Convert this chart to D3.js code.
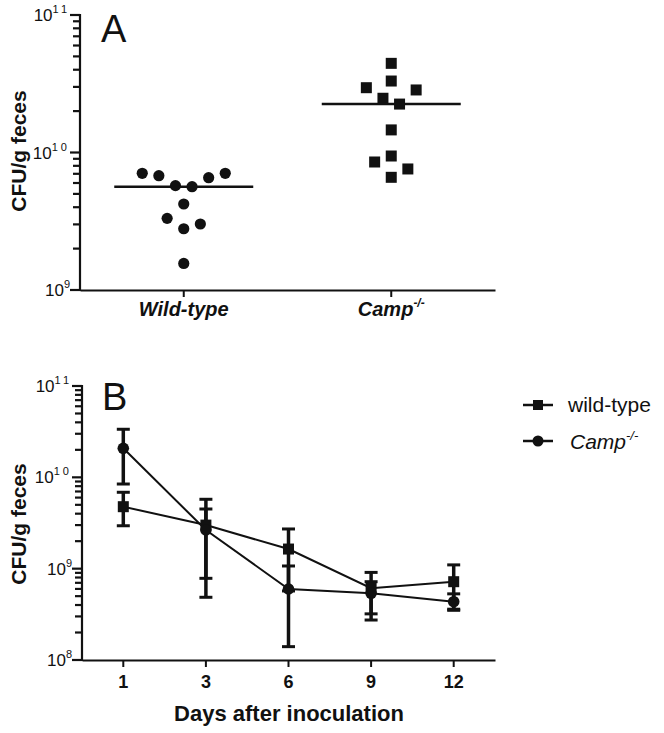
<!DOCTYPE html>
<html>
<head>
<meta charset="utf-8">
<script src="https://cdn.jsdelivr.net/npm/d3@7"></script>
<style>
  body { margin: 0; background: #fff; }
  text { font-family: "Liberation Sans", Arial, sans-serif; fill: #111; }
</style>
</head>
<body>
<svg width="664" height="733"></svg>
<script>
// panel A: CFU/g feces per mouse
var groupsA = ["Wild-type", "Camp"];
var wildTypeCFU = [7.06e9, 6.78e9, 5.74e9, 5.64e9, 6.56e9, 7.06e9, 4.22e9, 3.02e9, 3.32e9, 2.79e9, 1.56e9];
var campCFU = [4.45e10, 3.31e10, 2.96e10, 2.85e10, 2.48e10, 2.25e10, 1.46e10, 9.43e9, 8.53e9, 7.59e9, 6.6e9];

// panel B: time course, mean with error bars
var days = ["1", "3", "6", "9", "12"];
var wtMean  = [4.77e9, 3.0e9, 1.64e9, 6.1e8, 7.2e8];
var wtUpper = [6.86e9, 5.75e9, 2.72e9, 9.1e8, 1.1e9];
var wtLower = [2.95e9, 7.84e8, 5.7e8, 3.2e8, 3.5e8];
var campMean  = [2.08e10, 2.65e9, 5.99e8, 5.37e8, 4.35e8];
var campUpper = [3.36e10, 4.5e9, 1.07e9, 7.2e8, 5.3e8];
var campLower = [8.45e9, 4.86e8, 1.4e8, 2.74e8, 3.6e8];

var svg = d3.select("svg");
var ink = "#111";

function logTicks(lo, hi) {
  var t = [];
  for (var e = lo; e < hi; e++) {
    for (var m = 1; m < 10; m++) t.push(m * Math.pow(10, e));
  }
  t.push(Math.pow(10, hi));
  return t;
}

function isMajor(d) {
  var l = Math.log10(d);
  return Math.abs(l - Math.round(l)) < 1e-9;
}

// log y axis with GraphPad style labels (10 with superscript)
function drawYAxis(y, x0, lo, hi) {
  var ticks = logTicks(lo, hi);
  svg.append("g").selectAll("line")
    .data(ticks)
    .join("line")
    .attr("x1", function(d) { return isMajor(d) ? x0 - 10 : x0 - 7; })
    .attr("x2", x0)
    .attr("y1", function(d) { return y(d); })
    .attr("y2", function(d) { return y(d); })
    .attr("stroke", ink)
    .attr("stroke-width", 2.2);
  svg.append("line")
    .attr("x1", x0).attr("x2", x0)
    .attr("y1", y.range()[0] + 1).attr("y2", y.range()[1] - 1)
    .attr("stroke", ink)
    .attr("stroke-width", 2.2);

  ticks.filter(isMajor).forEach(function(d) {
    var exp = String(Math.round(Math.log10(d)));
    var t = svg.append("text")
      .attr("x", x0 - 10)
      .attr("y", y(d) + 6)
      .attr("text-anchor", "end")
      .attr("font-size", 17);
    t.append("tspan").text("10");
    t.append("tspan")
      .attr("font-size", 11)
      .attr("dy", -8)
      .attr("letter-spacing", exp.length > 1 ? 3 : 0)
      .text(exp);
  });
}

function yLabel(cx, cy) {
  svg.append("text")
    .attr("transform", "translate(" + cx + "," + cy + ") rotate(-90)")
    .attr("text-anchor", "middle")
    .attr("font-size", 21)
    .attr("font-weight", "bold")
    .text("CFU/g feces");
}

// simple GraphPad-like scatter layout: group close values in rows, spread outer-in
function swarm(values, y, binH, step) {
  var pts = values.map(function(v) { return { v: v, y: y(v), dx: 0 }; });
  var asc = pts.slice().sort(function(a, b) { return a.v - b.v; });
  var bins = [], cur = null;
  asc.forEach(function(p) {
    if (!cur || cur.y0 - p.y >= binH) { cur = { y0: p.y, pts: [] }; bins.push(cur); }
    cur.pts.push(p);
  });
  bins.forEach(function(b) {
    var n = b.pts.length;
    var slots = d3.range(n).map(function(i) { return i - (n - 1) / 2; });
    var order = [], l = 0, r = n - 1;
    while (l <= r) {
      order.push(slots[l++]);
      if (l <= r) order.push(slots[r--]);
    }
    b.pts.sort(function(a, c) { return c.v - a.v; })
      .forEach(function(p, i) { p.dx = order[i] * step; });
  });
  return pts;
}

// ---------- panel A ----------
var xA = d3.scaleBand().domain(groupsA).range([80, 495]);
var yA = d3.scaleLog().domain([1e9, 1e11]).range([290, 15]);

var gxA = svg.append("g").attr("transform", "translate(0,290)")
  .call(d3.axisBottom(xA).tickSize(7).tickSizeOuter(0).tickFormat(""));
gxA.select(".domain").attr("stroke", ink).attr("stroke-width", 2.2);
gxA.selectAll(".tick line").attr("stroke", ink).attr("stroke-width", 2);

drawYAxis(yA, 80, 9, 11);
yLabel(26, 151);

groupsA.forEach(function(grp) {
  var cx = xA(grp) + xA.bandwidth() / 2;
  var t = svg.append("text")
    .attr("x", cx)
    .attr("y", 316)
    .attr("text-anchor", "middle")
    .attr("font-size", 20)
    .attr("font-weight", "bold")
    .attr("font-style", "italic");
  t.append("tspan").text(grp);
  if (grp === "Camp") {
    t.append("tspan").attr("font-size", 12).attr("dy", -9).text("-/-");
  }
});

var cxWT = xA("Wild-type") + xA.bandwidth() / 2;
var cxCamp = xA("Camp") + xA.bandwidth() / 2;

svg.append("line")
  .attr("x1", cxWT - 69.5).attr("x2", cxWT + 69.5)
  .attr("y1", yA(d3.median(wildTypeCFU))).attr("y2", yA(d3.median(wildTypeCFU)))
  .attr("stroke", ink).attr("stroke-width", 2.5);
svg.append("line")
  .attr("x1", cxCamp - 69.5).attr("x2", cxCamp + 69.5)
  .attr("y1", yA(d3.median(campCFU))).attr("y2", yA(d3.median(campCFU)))
  .attr("stroke", ink).attr("stroke-width", 2.5);

svg.append("g").selectAll("circle")
  .data(swarm(wildTypeCFU, yA, 16.8, 16.6))
  .join("circle")
  .attr("cx", function(d) { return cxWT + d.dx; })
  .attr("cy", function(d) { return d.y; })
  .attr("r", 5.6)
  .attr("fill", ink);

svg.append("g").selectAll("rect")
  .data(swarm(campCFU, yA, 16.8, 16.6))
  .join("rect")
  .attr("x", function(d) { return cxCamp + d.dx - 5.5; })
  .attr("y", function(d) { return d.y - 5.5; })
  .attr("width", 11)
  .attr("height", 11)
  .attr("fill", ink);

svg.append("text").attr("x", 101).attr("y", 42).attr("font-size", 38).text("A");

// ---------- panel B ----------
var xB = d3.scaleBand().domain(days).range([82, 495]);
var yB = d3.scaleLog().domain([1e8, 1e11]).range([660, 386]);
var cB = function(d) { return xB(d) + xB.bandwidth() / 2; };

var gxB = svg.append("g").attr("transform", "translate(0,660)")
  .call(d3.axisBottom(xB).tickSize(7).tickSizeOuter(0).tickFormat(""));
gxB.select(".domain").attr("stroke", ink).attr("stroke-width", 2.2);
gxB.selectAll(".tick line").attr("stroke", ink).attr("stroke-width", 2);

svg.append("g").selectAll("text")
  .data(days)
  .join("text")
  .attr("x", cB)
  .attr("y", 688)
  .attr("text-anchor", "middle")
  .attr("font-size", 18)
  .attr("font-weight", "bold")
  .text(function(d) { return d; });

drawYAxis(yB, 82, 8, 11);
yLabel(26, 524);

svg.append("text")
  .attr("x", 289).attr("y", 721)
  .attr("text-anchor", "middle")
  .attr("font-size", 22)
  .attr("font-weight", "bold")
  .text("Days after inoculation");

var series = [
  { name: "wild-type", mean: wtMean, upper: wtUpper, lower: wtLower, shape: "square" },
  { name: "Camp", mean: campMean, upper: campUpper, lower: campLower, shape: "circle" }
];

series.forEach(function(s) {
  var g = svg.append("g");
  days.forEach(function(d, i) {
    var x = cB(d);
    g.append("line")
      .attr("x1", x).attr("x2", x)
      .attr("y1", yB(s.upper[i])).attr("y2", yB(s.lower[i]))
      .attr("stroke", ink).attr("stroke-width", 3.5);
    [s.upper[i], s.lower[i]].forEach(function(v) {
      g.append("line")
        .attr("x1", x - 6.5).attr("x2", x + 6.5)
        .attr("y1", yB(v)).attr("y2", yB(v))
        .attr("stroke", ink).attr("stroke-width", 3);
    });
  });
});

var line = d3.line()
  .x(function(d, i) { return cB(days[i]); })
  .y(function(d) { return yB(d); });

series.forEach(function(s) {
  svg.append("path")
    .attr("d", line(s.mean))
    .attr("fill", "none")
    .attr("stroke", ink)
    .attr("stroke-width", 2);
});

series.forEach(function(s) {
  var g = svg.append("g");
  if (s.shape === "square") {
    g.selectAll("rect").data(s.mean).join("rect")
      .attr("x", function(d, i) { return cB(days[i]) - 5.5; })
      .attr("y", function(d) { return yB(d) - 5.5; })
      .attr("width", 11).attr("height", 11)
      .attr("fill", ink);
  } else {
    g.selectAll("circle").data(s.mean).join("circle")
      .attr("cx", function(d, i) { return cB(days[i]); })
      .attr("cy", function(d) { return yB(d); })
      .attr("r", 5.8)
      .attr("fill", ink);
  }
});

svg.append("text").attr("x", 102).attr("y", 410).attr("font-size", 38).text("B");

// legend
var leg = svg.append("g");
leg.append("line").attr("x1", 523).attr("x2", 553).attr("y1", 405).attr("y2", 405)
  .attr("stroke", ink).attr("stroke-width", 2.5);
leg.append("rect").attr("x", 533).attr("y", 400).attr("width", 10).attr("height", 10).attr("fill", ink);
leg.append("text").attr("x", 568).attr("y", 412).attr("font-size", 21).text("wild-type");

leg.append("line").attr("x1", 523).attr("x2", 553).attr("y1", 441).attr("y2", 441)
  .attr("stroke", ink).attr("stroke-width", 2.5);
leg.append("circle").attr("cx", 538).attr("cy", 441).attr("r", 5.5).attr("fill", ink);
var lt = leg.append("text").attr("x", 570).attr("y", 449).attr("font-size", 21).attr("font-style", "italic");
lt.append("tspan").text("Camp");
lt.append("tspan").attr("font-size", 13).attr("dy", -9).text("-/-");
</script>
</body>
</html>
